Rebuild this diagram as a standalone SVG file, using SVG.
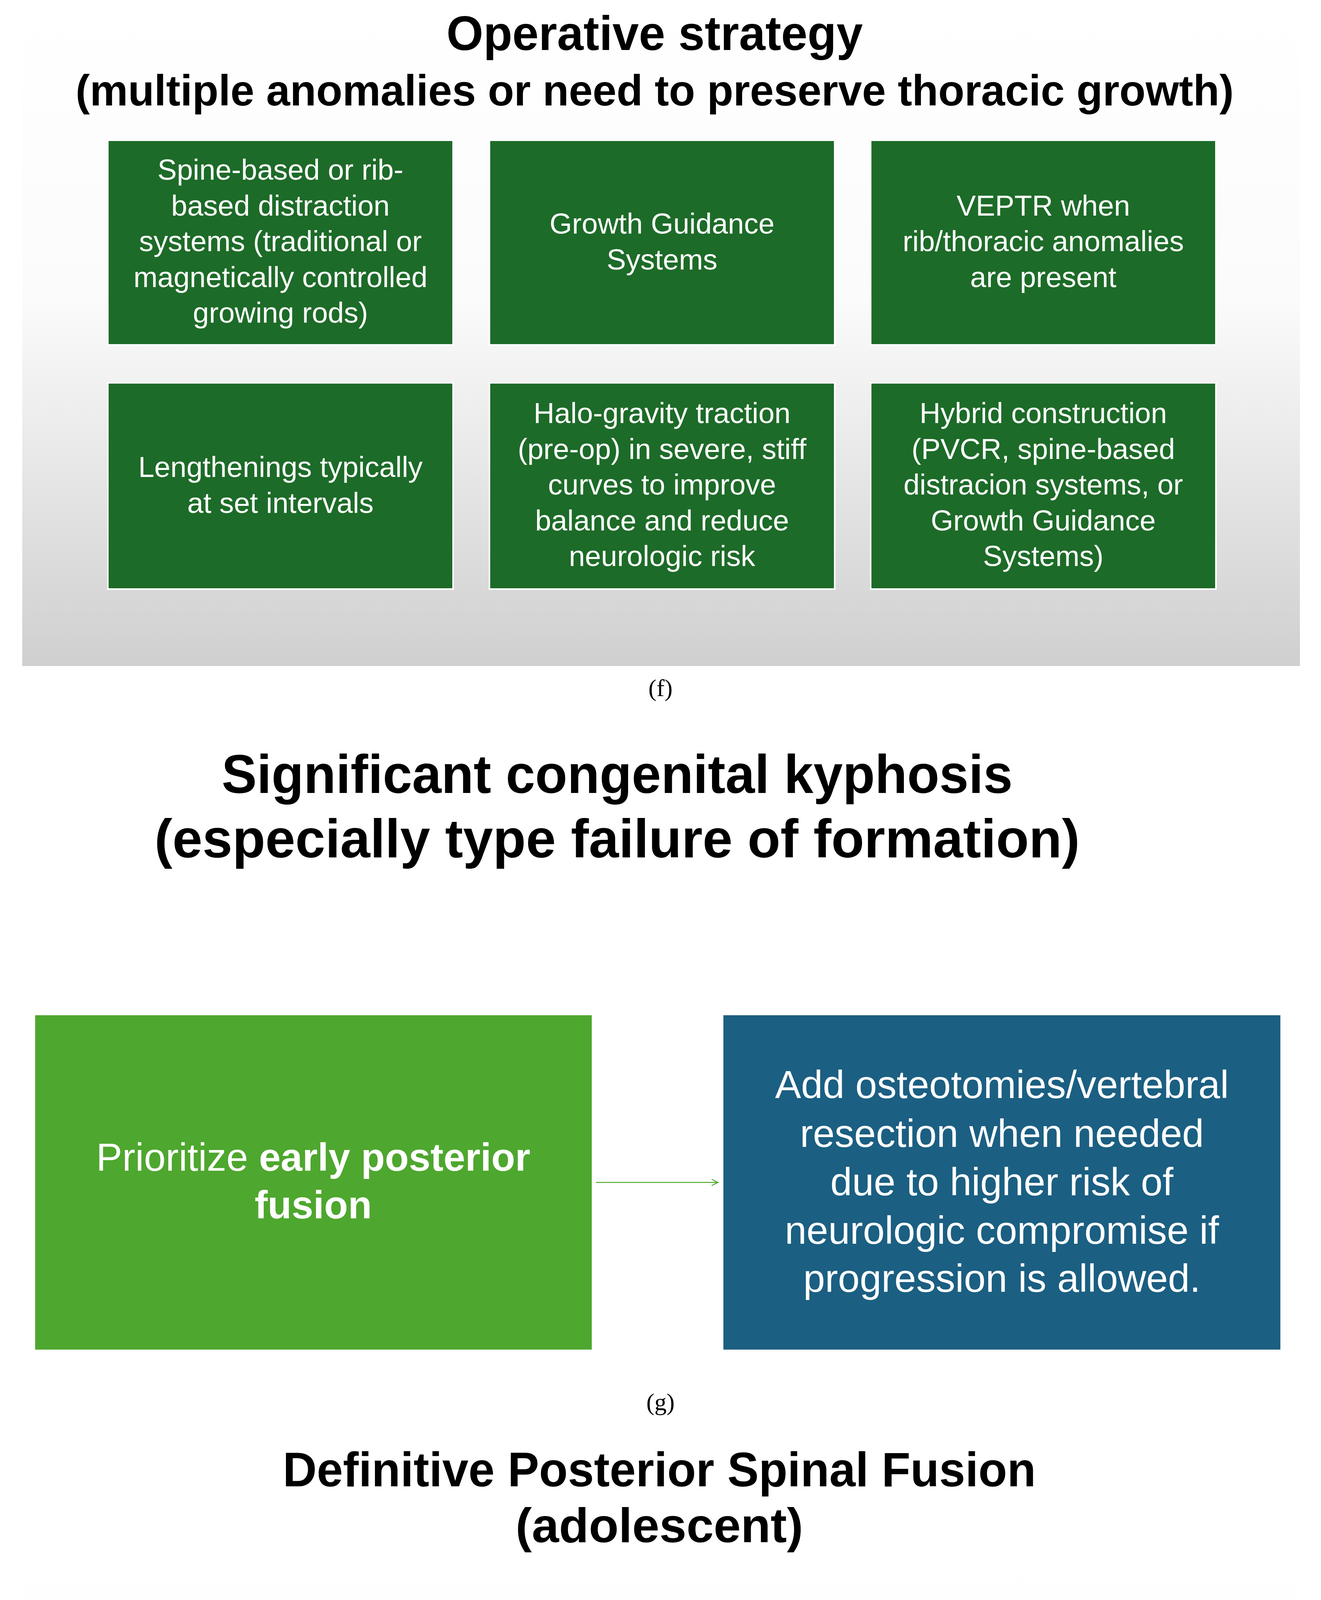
<svg xmlns="http://www.w3.org/2000/svg" width="3382" height="5608" viewBox="0 0 3382 5608">
<style>
.t{font-family:"Liberation Sans",Arial,sans-serif;font-weight:bold;fill:#000;text-anchor:middle}
.b{font-family:"Liberation Sans",Arial,sans-serif;fill:#fff;text-anchor:middle}
.cap{font-family:"Liberation Serif","Times New Roman",serif;font-size:62px;fill:#000;text-anchor:middle}
.dg{fill:#1d6b28;stroke:#fff;stroke-width:4}
</style>
<defs>
<linearGradient id="gf" x1="0" y1="0" x2="0" y2="1">
<stop offset="0" stop-color="#fff"/><stop offset="0.45" stop-color="#fbfbfb"/><stop offset="1" stop-color="#cfcfcf"/>
</linearGradient>
<marker id="ar" markerWidth="20" markerHeight="20" refX="18" refY="10" orient="auto" markerUnits="userSpaceOnUse">
<path d="M2,2 L18,10 L2,18" fill="none" stroke="#4ea72e" stroke-width="2.5"/>
</marker>
</defs>
<rect width="3382" height="5608" fill="#fff"/>
<rect x="57" y="0" width="3271" height="1705" fill="url(#gf)"/>
<rect x="57" y="3967" width="3271" height="1526" fill="url(#gf)"/>

<g id="title-f">
<text class="t" x="1676" y="128" font-size="125" textLength="1066" lengthAdjust="spacingAndGlyphs">Operative strategy</text>
<text class="t" x="1676" y="270" font-size="112" textLength="2965" lengthAdjust="spacingAndGlyphs">(multiple anomalies or need to preserve thoracic growth)</text>
</g>
<g id="f1"><rect class="dg" x="276" y="359" width="884" height="524"/>
<text class="b" font-size="74"><tspan x="718" y="460">Spine-based or rib-</tspan><tspan x="718" y="552">based distraction</tspan><tspan x="718" y="643">systems (traditional or</tspan><tspan x="718" y="735">magnetically controlled</tspan><tspan x="718" y="826">growing rods)</tspan></text></g>
<g id="f2"><rect class="dg" x="1253" y="359" width="884" height="524"/>
<text class="b" font-size="74"><tspan x="1695" y="598">Growth Guidance</tspan><tspan x="1695" y="690">Systems</tspan></text></g>
<g id="f3"><rect class="dg" x="2229" y="359" width="884" height="524"/>
<text class="b" font-size="74"><tspan x="2671" y="552">VEPTR when</tspan><tspan x="2671" y="643">rib/thoracic anomalies</tspan><tspan x="2671" y="735">are present</tspan></text></g>
<g id="f4"><rect class="dg" x="276" y="980" width="884" height="528"/>
<text class="b" font-size="74"><tspan x="718" y="1221">Lengthenings typically</tspan><tspan x="718" y="1313">at set intervals</tspan></text></g>
<g id="f5"><rect class="dg" x="1253" y="980" width="884" height="528"/>
<text class="b" font-size="74"><tspan x="1695" y="1083">Halo-gravity traction</tspan><tspan x="1695" y="1175">(pre-op) in severe, stiff</tspan><tspan x="1695" y="1266">curves to improve</tspan><tspan x="1695" y="1358">balance and reduce</tspan><tspan x="1695" y="1449">neurologic risk</tspan></text></g>
<g id="f6"><rect class="dg" x="2229" y="980" width="884" height="528"/>
<text class="b" font-size="74"><tspan x="2671" y="1083">Hybrid construction</tspan><tspan x="2671" y="1175">(PVCR, spine-based</tspan><tspan x="2671" y="1266">distracion systems, or</tspan><tspan x="2671" y="1358">Growth Guidance</tspan><tspan x="2671" y="1449">Systems)</tspan></text></g>
<text class="cap" x="1691" y="1782">(f)</text>

<g id="title-g">
<text class="t" x="1580" y="2030" font-size="140" textLength="2025" lengthAdjust="spacingAndGlyphs">Significant congenital kyphosis</text>
<text class="t" x="1580" y="2195" font-size="140" textLength="2369" lengthAdjust="spacingAndGlyphs">(especially type failure of formation)</text>
</g>
<g id="g1"><rect x="90" y="2599" width="1425" height="856" fill="#4ea72e"/>
<text class="b" font-size="100"><tspan x="802" y="2997">Prioritize <tspan font-weight="bold">early posterior</tspan></tspan><tspan x="802" y="3119" font-weight="bold">fusion</tspan></text></g>
<g id="g2"><rect x="1852" y="2599" width="1426" height="856" fill="#1b5f82"/>
<text class="b" font-size="100"><tspan x="2565" y="2811">Add osteotomies/vertebral</tspan><tspan x="2565" y="2936">resection when needed</tspan><tspan x="2565" y="3060">due to higher risk of</tspan><tspan x="2565" y="3184">neurologic compromise if</tspan><tspan x="2565" y="3307">progression is allowed.</tspan></text></g>
<g id="connectors"><line x1="1526" y1="3027" x2="1838" y2="3027" stroke="#4ea72e" stroke-width="2.5" marker-end="url(#ar)"/></g>
<text class="cap" x="1691" y="3610">(g)</text>

<g id="title-h">
<text class="t" x="1688" y="3805" font-size="125" textLength="1928" lengthAdjust="spacingAndGlyphs">Definitive Posterior Spinal Fusion</text>
<text class="t" x="1688" y="3948" font-size="125" textLength="736" lengthAdjust="spacingAndGlyphs">(adolescent)</text>
</g>
<g id="h1"><rect class="dg" x="269" y="4405" width="1260" height="628" rx="72"/>
<text class="b" font-size="84"><tspan x="899" y="4541">Consider when growth</tspan><tspan x="899" y="4644">remaining is limited,</tspan><tspan x="899" y="4745">deformity is structurally</tspan><tspan x="899" y="4846">mature, or after growth-</tspan><tspan x="899" y="4946">friendly treatment completion</tspan></text></g>
<g id="h2"><rect class="dg" x="1849" y="4405" width="1260" height="628" rx="72"/>
<text class="b" font-size="84"><tspan x="2479" y="4696">Keep fusion as short as safely</tspan><tspan x="2479" y="4799">possible</tspan></text></g>
<text class="cap" x="1691" y="5568">(h)</text>
</svg>
